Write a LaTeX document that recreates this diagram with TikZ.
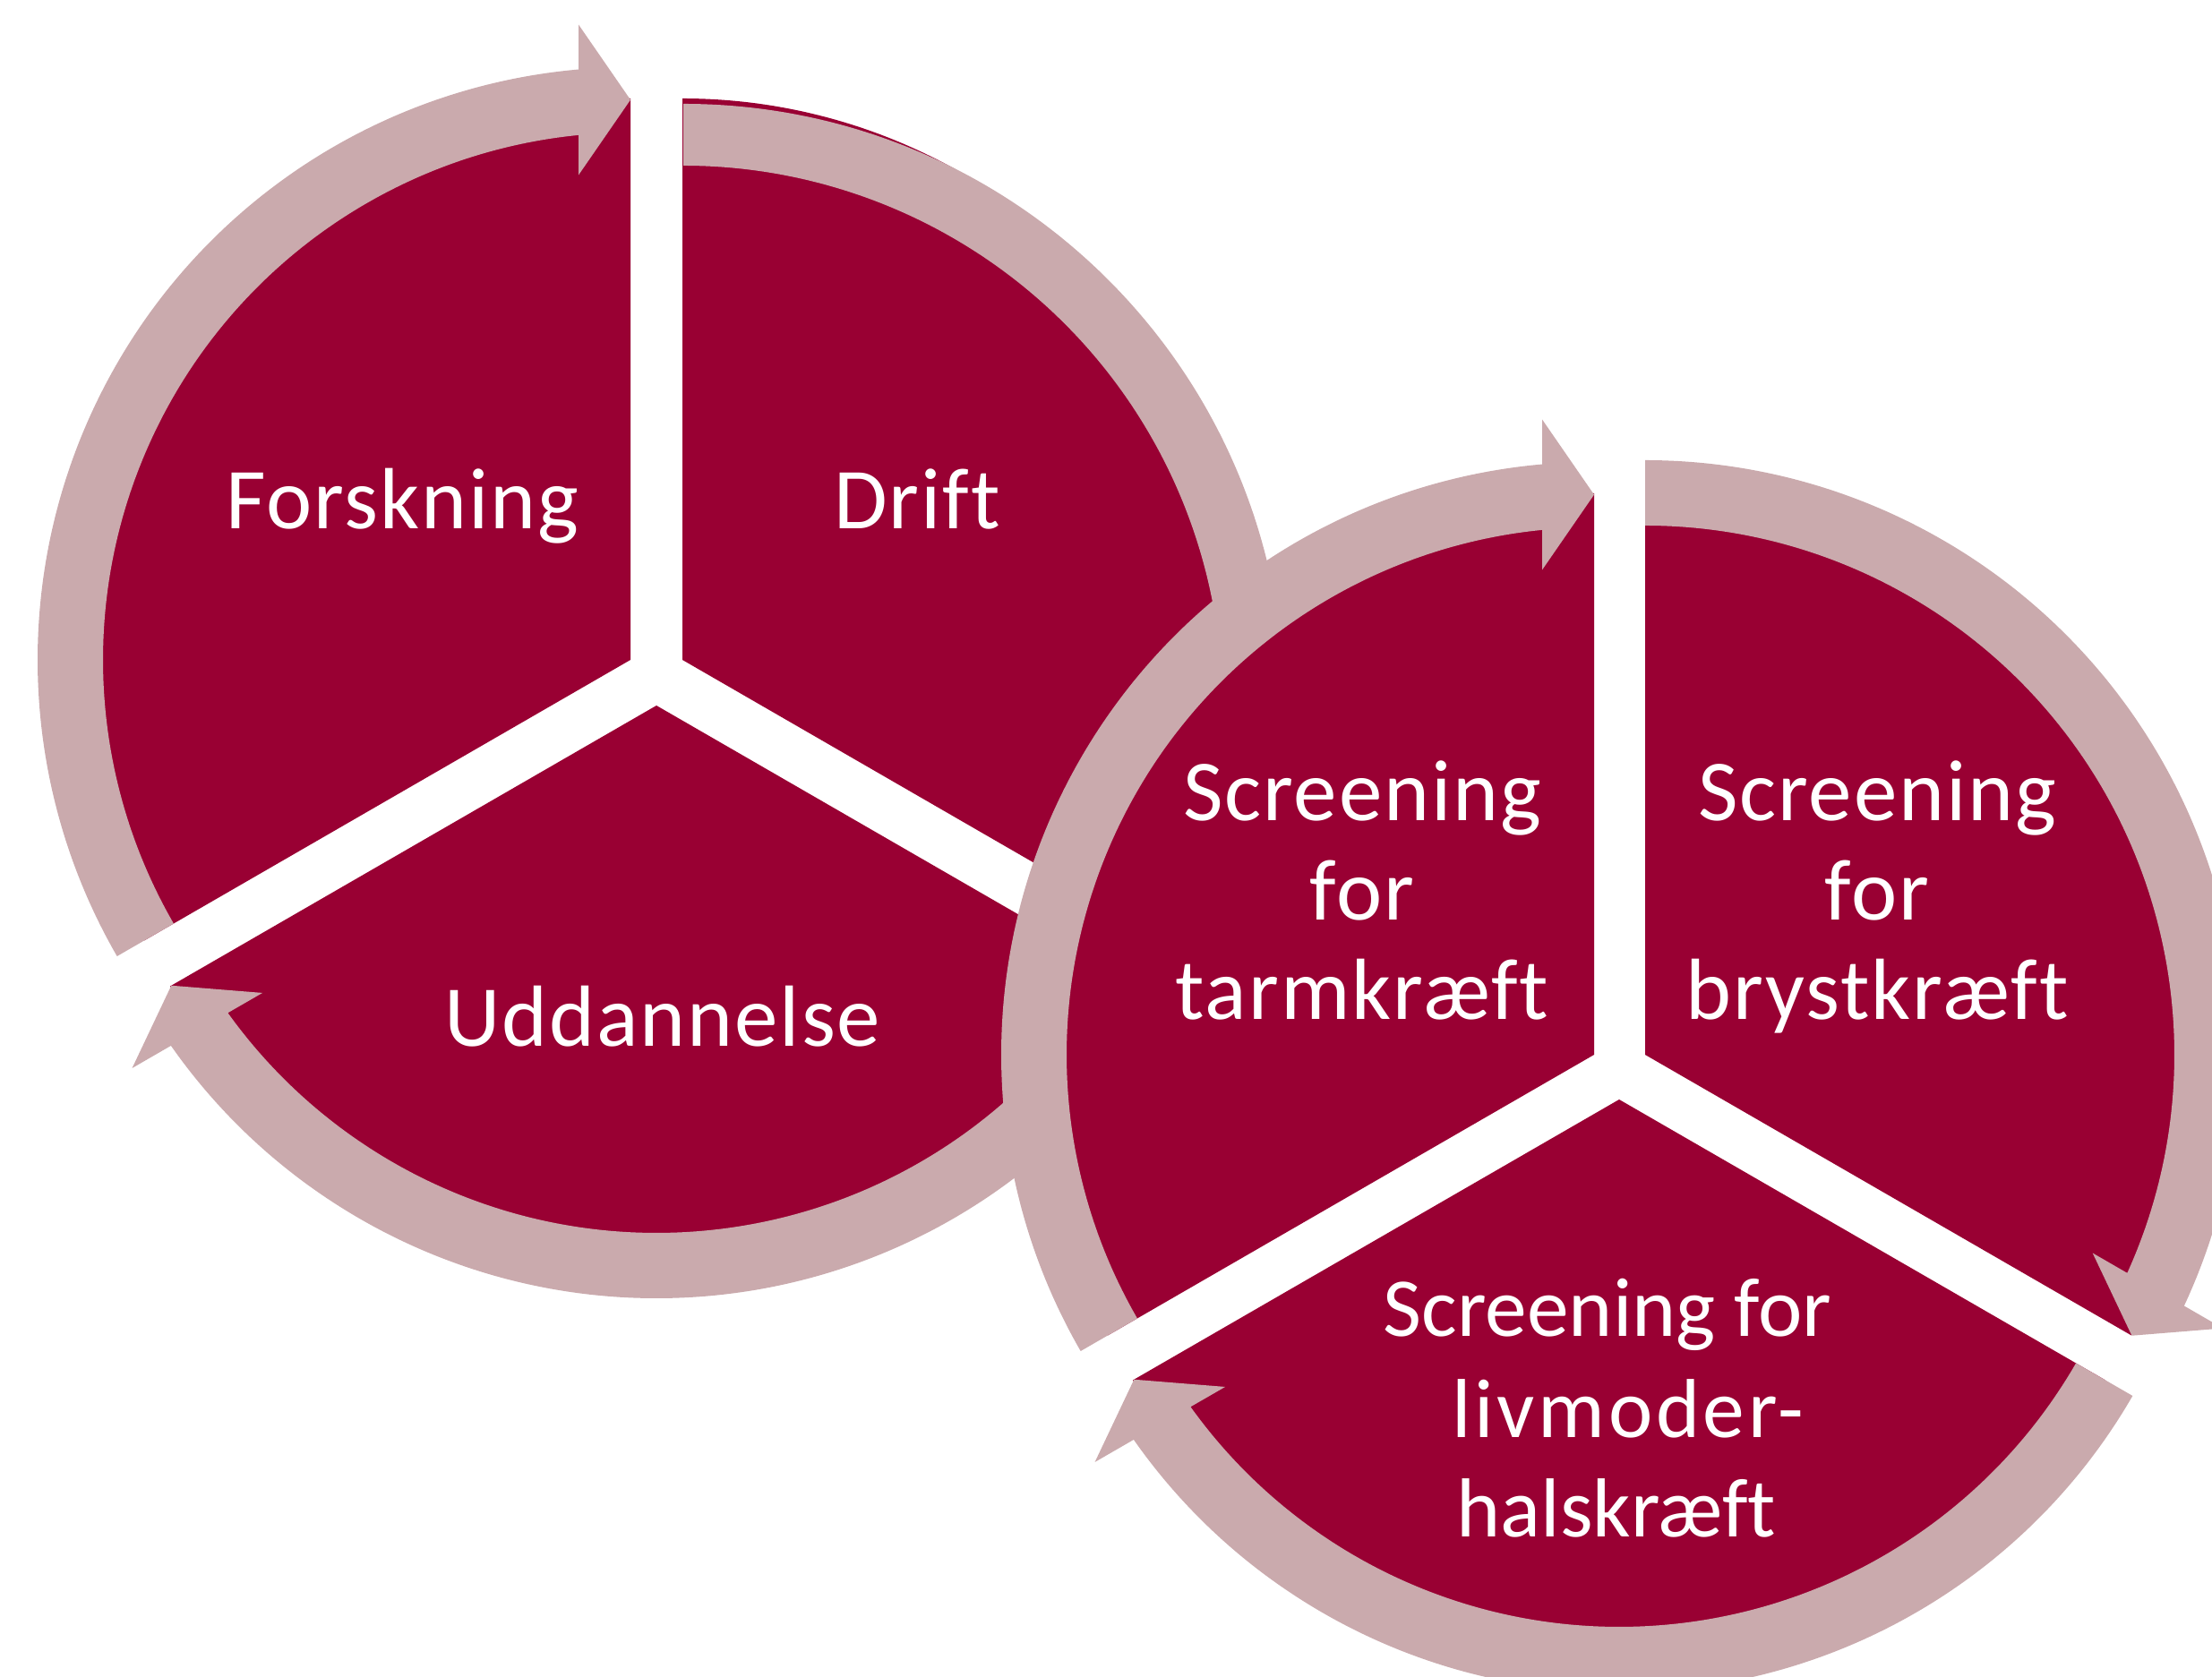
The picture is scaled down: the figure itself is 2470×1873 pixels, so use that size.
\documentclass[tikz,border=0pt]{standalone}
\usepackage{fontspec}
\setmainfont{Carlito}[Ligatures={NoCommon,NoRequired,NoContextual},LetterSpace=2]
\newfontfamily\tightfont{Carlito}[Ligatures={NoCommon,NoRequired,NoContextual}]
\newfontfamily\widefont{Carlito}[Ligatures={NoCommon,NoRequired,NoContextual},LetterSpace=4]
\definecolor{secred}{RGB}{153,0,51}
\definecolor{arrpink}{RGB}{202,170,173}
\newcommand{\segsector}[4]{%
  \fill[secred] (#1,#2) -- ++(#3:627pt) arc[start angle=#3,end angle=#4,radius=627pt] -- cycle;}
\newcommand{\cyclearrow}[6]{%
  \pgfmathsetmacro\cyRm{(#5+#6)/2}%
  \pgfmathsetmacro\cyAo{#4+asin(58/#6)}%
  \pgfmathsetmacro\cyAi{#4+asin(58/#5)}%
  \pgfmathsetmacro\cyRwo{\cyRm+84}%
  \pgfmathsetmacro\cyRwi{\cyRm-84}%
  \pgfmathsetmacro\cyAwo{#4+atan(58/\cyRwo)}%
  \pgfmathsetmacro\cyAwi{#4+atan(58/\cyRwi)}%
  \pgfmathsetmacro\cyDwo{\cyRwo/cos(atan(58/\cyRwo))}%
  \pgfmathsetmacro\cyDwi{\cyRwi/cos(atan(58/\cyRwi))}%
  \fill[arrpink,shift={(#1,#2)}] (#3:#6pt) arc[start angle=#3,end angle=\cyAo,radius=#6pt]
    -- (\cyAwo:\cyDwo pt) -- (#4:\cyRm pt) -- (\cyAwi:\cyDwi pt)
    -- (\cyAi:#5pt) arc[start angle=\cyAi,end angle=#3,radius=#5pt] -- cycle;}
\tikzset{lbl/.style={text=white,font=\fontsize{97}{111}\selectfont,inner sep=0pt,anchor=base},
  lblsmall/.style={lbl,font=\tightfont\fontsize{93.5}{111}\selectfont},
  lblwide/.style={lbl,font=\widefont\fontsize{93.5}{111}\selectfont}}
\begin{document}
\begin{tikzpicture}[x=1pt,y=1pt]
\clip (0,0) rectangle (2470,1873);
% left cycle
\segsector{704}{1136}{90}{210}
\segsector{762}{1136}{-30}{90}
\segsector{733}{1085}{210}{330}
\cyclearrow{704}{1136}{210}{90}{589}{662}
\cyclearrow{763}{1086}{90}{-30}{602}{671}
\cyclearrow{733}{1085}{330}{210}{589}{662}
\node[lbl] (forskning) at (449,1282) {Forskning};
\node[lbl] (drift) at (1024,1282) {Drift};
\node[lbl] (uddannelse) at (740,704) {Uddannelse};
% right cycle
\segsector{1780}{695}{90}{210}
\segsector{1837}{695}{-30}{90}
\segsector{1808}{645}{210}{330}
\cyclearrow{1780}{695}{210}{90}{589}{662}
\cyclearrow{1837}{695}{90}{-30}{591}{664}
\cyclearrow{1808}{645}{330}{210}{589}{662}
\node[lbl] (tarmA) at (1521,956) {Screening};
\node[lbl] (tarmB) at (1521,845) {for};
\node[lbl] (tarmC) at (1521,734) {tarmkræft};
\node[lbl] (brystA) at (2096,956) {Screening};
\node[lbl] (brystB) at (2096,845) {for};
\node[lbl] (brystC) at (2096,734) {brystkræft};
\node[lblsmall] (livA) at (1795,380) {Screening for};
\node[lblwide] (livB) at (1818,267) {livmoder-};
\node[lblsmall] (livC) at (1805,156) {halskræft};
\end{tikzpicture}
\end{document}
